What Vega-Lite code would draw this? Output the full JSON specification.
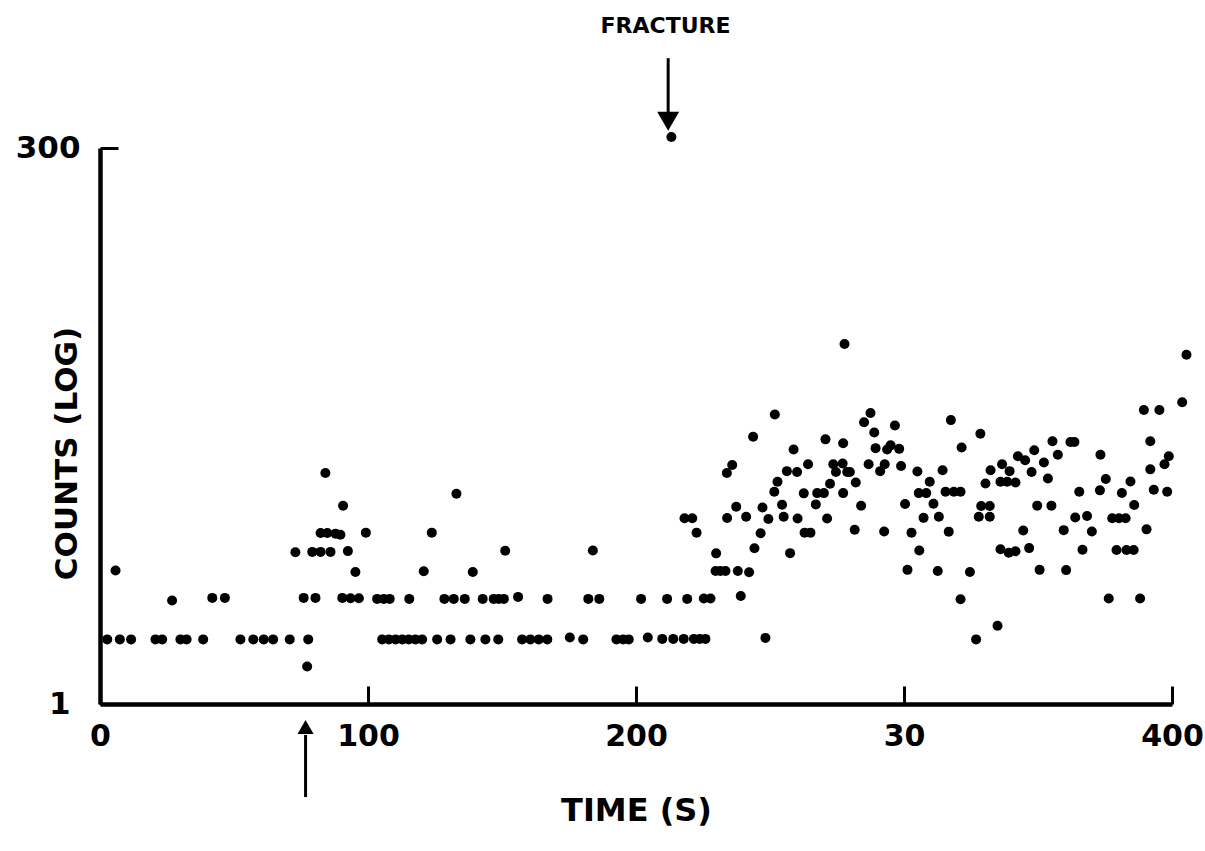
{
  "$schema": "https://vega.github.io/schema/vega-lite/v6.json",
  "width": 1072,
  "height": 556,
  "autosize": {"type": "none"},
  "padding": {"left": 100, "top": 148, "right": 33, "bottom": 147},
  "background": "white",
  "config": {"view": {"stroke": null}, "font": "DejaVu Sans"},
  "datasets": {
    "counts": [
      {"time":2.7,"count":1.94},{"time":7.4,"count":1.94},{"time":11.6,"count":1.94},{"time":20.7,"count":1.94},{"time":23.2,"count":1.94},{"time":30.0,"count":1.94},{"time":32.3,"count":1.94},{"time":38.5,"count":1.94},{"time":52.4,"count":1.94},{"time":57.2,"count":1.94},{"time":61.1,"count":1.94},{"time":64.6,"count":1.94},{"time":70.8,"count":1.94},{"time":77.7,"count":1.94},
      {"time":77.3,"count":1.47},{"time":5.8,"count":3.93},{"time":26.9,"count":2.89},{"time":41.9,"count":2.97},{"time":46.6,"count":2.97},{"time":76.0,"count":2.97},{"time":80.4,"count":2.97},{"time":90.4,"count":2.97},{"time":93.5,"count":2.96},{"time":96.6,"count":2.96},{"time":103.4,"count":2.94},
      {"time":95.3,"count":3.87},{"time":72.9,"count":4.74},{"time":79.2,"count":4.76},{"time":82.3,"count":4.76},{"time":86.0,"count":4.76},{"time":92.5,"count":4.8},
      {"time":82.3,"count":5.78},{"time":84.8,"count":5.78},{"time":87.9,"count":5.74},{"time":89.7,"count":5.68},{"time":99.2,"count":5.8},{"time":90.7,"count":7.64},{"time":84.1,"count":10.7},
      {"time":133.0,"count":8.65},{"time":123.8,"count":5.8},{"time":151.2,"count":4.82},{"time":183.9,"count":4.83},{"time":120.8,"count":3.9},{"time":139.1,"count":3.87},
      {"time":105.9,"count":2.94},{"time":108.1,"count":2.94},{"time":115.4,"count":2.94},{"time":128.5,"count":2.94},{"time":132.0,"count":2.94},{"time":136.1,"count":2.94},{"time":142.8,"count":2.94},{"time":146.9,"count":2.94},{"time":148.8,"count":2.94},{"time":150.7,"count":2.94},{"time":156.0,"count":3.0},{"time":167.0,"count":2.94},{"time":182.2,"count":2.94},{"time":186.3,"count":2.94},{"time":201.9,"count":2.94},
      {"time":105.3,"count":1.94},{"time":107.8,"count":1.94},{"time":110.3,"count":1.94},{"time":112.8,"count":1.94},{"time":115.2,"count":1.94},{"time":117.7,"count":1.94},{"time":120.2,"count":1.94},{"time":125.8,"count":1.94},{"time":130.8,"count":1.94},{"time":138.2,"count":1.94},{"time":143.8,"count":1.94},{"time":148.6,"count":1.94},{"time":157.5,"count":1.94},{"time":160.6,"count":1.94},{"time":163.7,"count":1.94},{"time":166.9,"count":1.94},{"time":175.3,"count":1.98},{"time":180.3,"count":1.94},{"time":192.7,"count":1.94},{"time":195.2,"count":1.94},{"time":197.3,"count":1.94},{"time":204.4,"count":1.98},
      {"time":209.8,"count":1.95},{"time":213.9,"count":1.95},{"time":217.8,"count":1.95},{"time":221.6,"count":1.95},{"time":223.8,"count":1.95},{"time":225.9,"count":1.95},{"time":248.3,"count":1.97},
      {"time":211.6,"count":2.94},{"time":219.1,"count":2.94},{"time":225.3,"count":2.95},{"time":227.8,"count":2.95},{"time":239.1,"count":3.03},
      {"time":229.7,"count":3.91},{"time":231.5,"count":3.91},{"time":233.4,"count":3.91},{"time":238.0,"count":3.91},{"time":242.2,"count":3.86},{"time":301.3,"count":3.96},{"time":312.6,"count":3.91},
      {"time":229.9,"count":4.69},{"time":244.2,"count":4.94},{"time":257.5,"count":4.7},{"time":305.7,"count":4.83},
      {"time":222.6,"count":5.8},{"time":246.5,"count":5.76},{"time":262.9,"count":5.8},{"time":265.1,"count":5.8},{"time":281.6,"count":5.98},{"time":292.6,"count":5.87},{"time":302.8,"count":5.8},
      {"time":218.1,"count":6.72},{"time":221.0,"count":6.72},{"time":234.0,"count":6.74},{"time":241.1,"count":6.83},{"time":249.4,"count":6.67},{"time":255.1,"count":6.83},{"time":260.3,"count":6.7},{"time":271.3,"count":6.7},{"time":307.3,"count":6.75},{"time":313.0,"count":6.83},
      {"time":237.4,"count":7.57},{"time":247.2,"count":7.5},{"time":254.5,"count":7.72},{"time":267.1,"count":7.75},{"time":284.0,"count":7.64},{"time":300.4,"count":7.78},{"time":311.0,"count":7.8},
      {"time":251.6,"count":8.83},{"time":262.6,"count":8.68},{"time":267.6,"count":8.7},{"time":270.1,"count":8.7},{"time":277.3,"count":8.7},{"time":305.5,"count":8.7},{"time":308.3,"count":8.7},
      {"time":252.8,"count":9.78},{"time":272.4,"count":9.58},{"time":282.0,"count":9.7},{"time":309.6,"count":9.78},
      {"time":233.9,"count":10.7},{"time":274.6,"count":10.8},{"time":278.8,"count":10.8},{"time":279.8,"count":10.8},{"time":291.1,"count":10.9},{"time":256.3,"count":10.9},{"time":260.1,"count":10.8},{"time":305.0,"count":10.86},
      {"time":235.9,"count":11.6},{"time":264.2,"count":11.7},{"time":273.6,"count":11.7},{"time":277.1,"count":11.8},{"time":286.8,"count":11.7},{"time":292.8,"count":11.7},{"time":298.9,"count":11.5},
      {"time":258.8,"count":13.6},{"time":289.4,"count":13.8},{"time":293.7,"count":13.6},{"time":295.0,"count":14.2},{"time":298.2,"count":13.7},{"time":277.3,"count":14.5},{"time":270.7,"count":15.1},{"time":243.7,"count":15.5},{"time":288.9,"count":16.2},{"time":296.6,"count":17.4},{"time":285.1,"count":18.0},{"time":251.8,"count":19.5},{"time":287.5,"count":19.8},{"time":277.8,"count":40.2},
      {"time":213.2,"count":336},
      {"time":405.4,"count":36.0},{"time":403.8,"count":22.1},{"time":389.5,"count":20.4},{"time":395.3,"count":20.4},{"time":317.5,"count":18.4},{"time":328.5,"count":16.0},{"time":321.5,"count":13.9},
      {"time":355.4,"count":14.8},{"time":362.1,"count":14.7},{"time":363.6,"count":14.7},{"time":391.9,"count":14.8},{"time":348.6,"count":13.5},{"time":357.4,"count":12.9},{"time":373.3,"count":12.9},
      {"time":342.5,"count":12.7},{"time":345.2,"count":12.2},{"time":352.2,"count":11.9},{"time":398.8,"count":12.7},{"time":397.2,"count":11.7},{"time":336.6,"count":11.7},
      {"time":314.4,"count":11.0},{"time":332.3,"count":11.0},{"time":339.4,"count":10.9},{"time":347.6,"count":10.8},{"time":391.9,"count":11.1},{"time":353.7,"count":10.1},{"time":375.3,"count":10.05},
      {"time":330.4,"count":9.6},{"time":336.0,"count":9.78},{"time":338.5,"count":9.78},{"time":341.6,"count":9.7},{"time":384.5,"count":9.8},
      {"time":315.5,"count":8.83},{"time":318.6,"count":8.83},{"time":321.1,"count":8.83},{"time":365.4,"count":8.83},{"time":373.1,"count":8.95},{"time":381.3,"count":8.71},{"time":393.2,"count":9.0},{"time":398.2,"count":8.83},
      {"time":328.8,"count":7.62},{"time":332.0,"count":7.62},{"time":349.7,"count":7.65},{"time":355.0,"count":7.65},{"time":385.9,"count":7.7},
      {"time":327.9,"count":6.83},{"time":332.0,"count":6.83},{"time":363.9,"count":6.78},{"time":368.3,"count":6.88},{"time":377.7,"count":6.72},{"time":380.2,"count":6.72},{"time":382.7,"count":6.72},
      {"time":316.7,"count":5.86},{"time":344.5,"count":5.93},{"time":359.6,"count":5.95},{"time":370.1,"count":5.87},{"time":390.5,"count":6.0},
      {"time":336.0,"count":4.89},{"time":339.1,"count":4.72},{"time":341.6,"count":4.79},{"time":346.7,"count":4.95},{"time":366.6,"count":4.87},{"time":379.3,"count":4.85},{"time":383.0,"count":4.85},{"time":385.7,"count":4.85},
      {"time":324.6,"count":3.87},{"time":350.6,"count":3.96},{"time":360.5,"count":3.95},
      {"time":321.1,"count":2.93},{"time":376.4,"count":2.95},{"time":388.1,"count":2.95},{"time":334.9,"count":2.23},{"time":326.9,"count":1.94}
    ],
    "arrowShafts": [
      {"name": "fracture", "time": 212, "count": 754, "count2": 420},
      {"name": "onset", "time": 76.7, "count": 0.385, "count2": 0.728}
    ],
    "arrowHeads": [
      {"name": "fracture", "time": 212, "count": 395},
      {"name": "onset", "time": 76.7, "count": 0.79}
    ],
    "notes": [
      {"time": 211, "count": 1047, "text": "FRACTURE"}
    ]
  },
  "encoding": {
    "x": {
      "field": "time", "type": "quantitative",
      "scale": {"domain": [0, 400], "nice": false, "zero": false},
      "axis": {
        "title": "TIME (S)",
        "values": [0, 100, 200, 300, 400],
        "format": "d",
        "labelExpr": "datum.value === 300 ? '30' : datum.label",
        "grid": false,
        "domainColor": "black", "domainWidth": 4.5,
        "tickColor": "black", "tickWidth": 3, "tickSize": -18,
        "labelFont": "DejaVu Sans", "labelFontWeight": "bold", "labelFontSize": 30, "labelColor": "black",
        "labelPadding": 35, "labelFlush": false, "labelOverlap": false,
        "titleFont": "DejaVu Sans", "titleFontWeight": "bold", "titleFontSize": 32, "titleColor": "black",
        "titleX": 536, "titleY": 106, "titleBaseline": "middle", "titleAlign": "center"
      }
    },
    "y": {
      "field": "count", "type": "quantitative",
      "scale": {"type": "log", "domain": [1, 300], "nice": false},
      "axis": {
        "title": "COUNTS (LOG)",
        "values": [1, 300],
        "format": "d",
        "grid": false,
        "domainColor": "black", "domainWidth": 4.5,
        "tickColor": "black", "tickWidth": 3, "tickSize": -18,
        "labelFont": "DejaVu Sans", "labelFontWeight": "bold", "labelFontSize": 31, "labelColor": "black",
        "labelPadding": {"condition": {"test": "datum.value === 1", "value": 48}, "value": 38},
        "labelBaseline": "middle",
        "labelFlush": false, "labelOverlap": false,
        "titleFont": "DejaVu Sans", "titleFontWeight": "bold", "titleFontSize": 31, "titleColor": "black",
        "titleX": -33, "titleY": 305, "titleAngle": 270, "titleBaseline": "middle", "titleAlign": "center"
      }
    }
  },
  "layer": [
    {
      "data": {"name": "counts"},
      "mark": {"type": "point", "filled": true, "shape": "circle", "size": 100, "color": "black", "opacity": 1}
    },
    {
      "data": {"name": "arrowShafts"},
      "mark": {"type": "rule", "color": "black", "strokeWidth": 3},
      "encoding": {
        "y2": {"field": "count2"}
      }
    },
    {
      "data": {"name": "arrowHeads"},
      "transform": [{"filter": "datum.name === 'fracture'"}],
      "mark": {"type": "point", "filled": true, "shape": "triangle-down", "size": 480, "color": "black", "opacity": 1}
    },
    {
      "data": {"name": "arrowHeads"},
      "transform": [{"filter": "datum.name === 'onset'"}],
      "mark": {"type": "point", "filled": true, "shape": "triangle-up", "size": 260, "color": "black", "opacity": 1}
    },
    {
      "data": {"name": "notes"},
      "mark": {"type": "text", "font": "DejaVu Sans", "fontWeight": "bold", "fontSize": 22, "color": "black", "align": "center", "baseline": "middle"},
      "encoding": {
        "text": {"field": "text"}
      }
    }
  ]
}
